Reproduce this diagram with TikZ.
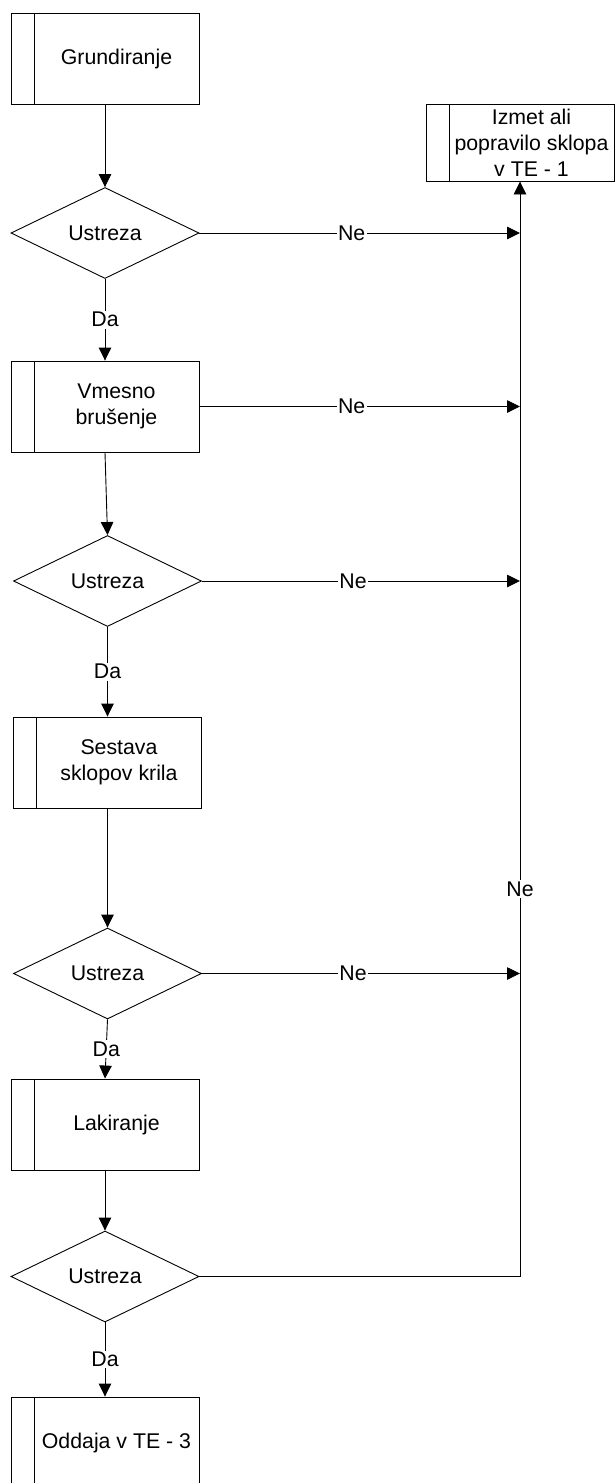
\documentclass[tikz,border=0pt]{standalone}
\usepackage{fontspec}
\setmainfont{Liberation Sans}
\usepackage{tikz}
\usetikzlibrary{arrows.meta}
\usetikzlibrary{shapes.geometric}
\usetikzlibrary{positioning}
\tikzset{proc/.style={draw, rectangle, minimum width=188pt, minimum height=91pt, inner sep=0pt,
  path picture={
            \draw[line width=0.9pt] ([xshift=23pt]path picture bounding box.north west) -- ([xshift=23pt]path picture bounding box.south west);
            }}}
\tikzset{ptext/.style={xshift=11.5pt, align=center, inner sep=0pt}}
\tikzset{check/.style={draw, diamond, shape aspect=2, minimum width=188pt, minimum height=91pt, inner sep=0pt}}
\tikzset{lbl/.style={fill=white, inner sep=1.5pt}}
\tikzset{arr/.style={-{Triangle[length=13pt,width=12.5pt]}}}

\begin{document}
\begin{tikzpicture}[x=1pt, y=-1pt, line width=0.9pt, font=\fontsize{21.3}{26}\selectfont]
\useasboundingbox (0,0) rectangle (615,1483);

\node[proc, label={[ptext]center:Grundiranje}] (grund) at (105,58.5) {};
\node[check] (d1) at (105,233) {Ustreza};
\node[proc, label={[ptext]center:{Vmesno\\brušenje}}] (brus) at (105,406.5) {};
\node[check] (d2) at (107.5,581) {Ustreza};
\node[proc, label={[ptext]center:{Sestava\\sklopov krila}}] (sest) at (107.5,762.5) {};
\node[check] (d3) at (107.5,973.5) {Ustreza};
\node[proc, label={[ptext]center:Lakiranje}] (lak) at (105,1124.5) {};
\node[check] (d4) at (105,1276.5) {Ustreza};
\node[proc, label={[ptext]center:{Oddaja v TE - 3}}] (odd) at (105,1442.5) {};

\node[proc, minimum height=77pt, label={[ptext]center:{Izmet ali\\popravilo sklopa\\v TE - 1}}] (izmet) at (520,142.5) {};

% glavni tok
\draw[arr] (grund.south) -- (d1.north);
\draw[arr] (d1.south) -- node[lbl] {Da} (brus.north);
\draw[arr] (brus.south) -- (d2.north);
\draw[arr] (d2.south) -- node[lbl] {Da} (sest.north);
\draw[arr] (sest.south) -- (d3.north);
\draw[arr] (d3.south) -- node[lbl] {Da} (lak.north);
\draw[arr] (lak.south) -- (d4.north);
\draw[arr] (d4.south) -- node[lbl] {Da} (odd.north);

% zavrnitve
\foreach \d in {d1, brus, d2, d3}
  {
  \draw[arr] (\d.east) -- node[lbl, pos=0.475] {Ne} (\d.east -| izmet.south);
  }
\draw[arr] (d4.east) -| node[lbl, pos=0.677] {Ne} (izmet.south);

\end{tikzpicture}
\end{document}
